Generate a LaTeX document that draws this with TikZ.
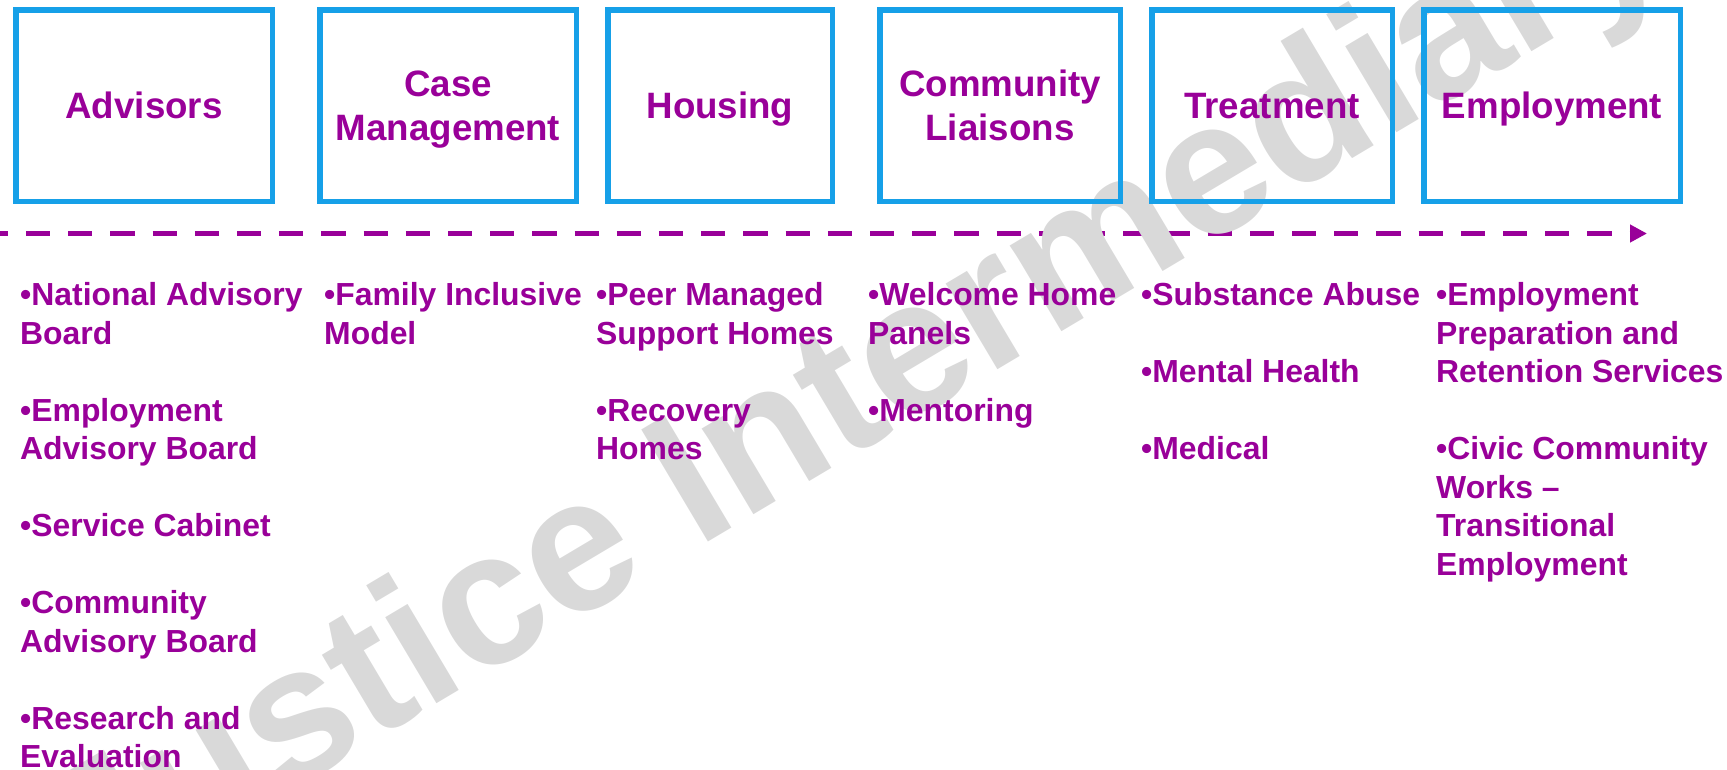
\documentclass[tikz,border=0pt]{standalone}
\usepackage{fontspec}
\setmainfont{Liberation Sans}
\usepackage{tikz}
\usetikzlibrary{positioning, arrows.meta}
\definecolor{stagepurple}{RGB}{153,0,153}
\definecolor{stageblue}{RGB}{22,160,232}
\definecolor{markgray}{RGB}{217,217,217}
\tikzstyle{stage} = [rectangle, draw=stageblue, line width=5.5pt, inner sep=0pt, minimum height=191.5pt, align=center, text=stagepurple, text depth=0pt, font=\fontsize{36.7}{44}\selectfont\bfseries]
\tikzstyle{items} = [anchor=north west, inner sep=0pt, align=left, text=stagepurple, font=\fontsize{31.9}{38.5}\selectfont\bfseries]
\tikzstyle{timeline} = [stagepurple, line width=5.5pt, dash pattern=on 24.2pt off 18pt, dash phase=16.2pt, -{Triangle[length=17pt, width=17pt]}]
\tikzstyle{watermark} = [rotate=30.75, text=markgray, font=\fontsize{189.5}{200}\selectfont\bfseries]
\newcommand{\gapline}{\\[38.5pt]}

\begin{document}
\begin{tikzpicture}[x=1pt, y=-1pt]
    \useasboundingbox (0,0) rectangle (1727,769);
    \clip (0,0) rectangle (1727,769);
    % Timeline
    \coordinate (tl_start) at (0,233.5);
    \coordinate (tl_end) at (1647,233.5);
    \draw [timeline] (tl_start) -- (tl_end);
    % Watermark
    \node (mark) [watermark] at (858,396) {Justice Intermediary};
    % Stages
    \node (advisors) [stage, minimum width=256.5pt] at (144,105.5) {Advisors};
    \node (casemgmt) [stage, minimum width=256.5pt, right=42pt of advisors] {Case\\Management};
    \node (housing) [stage, minimum width=224.5pt, right=26pt of casemgmt] {Housing};
    \node (liaisons) [stage, minimum width=240.5pt, right=42pt of housing] {Community\\Liaisons};
    \node (treatment) [stage, minimum width=240.5pt, right=26pt of liaisons] {Treatment};
    \node (employment) [stage, minimum width=256.5pt, right=26pt of treatment] {Employment};
    % Services
    \node (advisors_list) [items] at (20,282.6) {•National Advisory\\Board\gapline •Employment\\Advisory Board\gapline •Service Cabinet\gapline •Community\\Advisory Board\gapline •Research and\\Evaluation};
    \node (casemgmt_list) [items] at (324,282.6) {•Family Inclusive\\Model};
    \node (housing_list) [items] at (596,282.6) {•Peer Managed\\Support Homes\gapline •Recovery\\Homes};
    \node (liaisons_list) [items] at (868,282.6) {•Welcome Home\\Panels\gapline •Mentoring};
    \node (treatment_list) [items] at (1141,282.6) {•Substance Abuse\gapline •Mental Health\gapline •Medical};
    \node (employment_list) [items] at (1436,282.6) {•Employment\\Preparation and\\Retention Services\gapline •Civic Community\\Works --\\Transitional\\Employment};
\end{tikzpicture}
\end{document}
